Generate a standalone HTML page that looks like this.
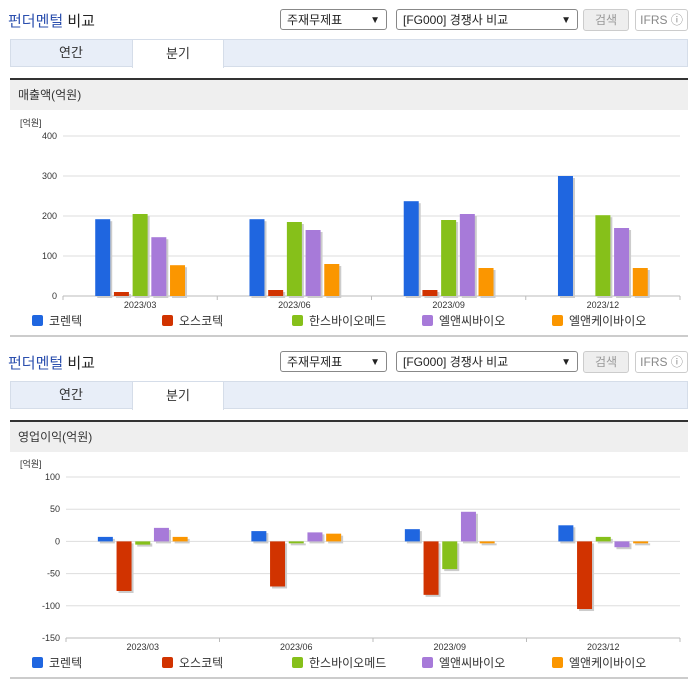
<!DOCTYPE html>
<html><head><meta charset="utf-8">
<style>
body{margin:0;width:696px;height:684px;background:#fff;font-family:"Liberation Sans","Noto Sans CJK KR",sans-serif;position:relative;overflow:hidden}
.sec{position:absolute;left:0;width:696px;height:342px}
.title{position:absolute;left:8px;top:10px;font-size:15px;color:#222}
.title b{color:#2b4fae;font-weight:normal}
.sel{position:absolute;top:9px;height:21px;border:1px solid #888;border-radius:3px;font-size:12px;line-height:21px;padding-left:6px;box-sizing:border-box;background:#fff;color:#222}
.sel span{position:absolute;right:6px;top:0;font-size:10px}
.btn{position:absolute;top:9px;height:22px;border:1px solid #ccc;border-radius:3px;font-size:12px;line-height:20px;text-align:center;box-sizing:border-box;color:#999}
.tabs{position:absolute;left:10px;top:39px;width:678px;height:28px;background:#e8eef8;border:1px solid #d5dde9;box-sizing:border-box}
.tab{position:absolute;top:-1px;height:29px;width:92px;text-align:center;line-height:28px;font-size:13px;color:#333}
.hdr{position:absolute;left:10px;top:78px;width:678px;height:32px;border-top:2px solid #333;background:#efefef;box-sizing:border-box;font-size:12px;line-height:30px;padding-left:8px;color:#333}
.foot{position:absolute;left:10px;width:678px;height:2px;background:#ccc}
svg text{font-family:"Liberation Sans","Noto Sans CJK KR",sans-serif}
</style></head><body>
<div class="sec" style="top:0">
 <div class="title"><b>펀더멘털</b> 비교</div>
 <div class="sel" style="left:280px;width:107px">주재무제표<span>▼</span></div>
 <div class="sel" style="left:396px;width:182px">[FG000] 경쟁사 비교<span>▼</span></div>
 <div class="btn" style="left:583px;width:46px;background:#eee">검색</div>
 <div class="btn" style="left:635px;width:53px;color:#888">IFRS ⓘ</div>
 <div class="tabs"><div class="tab" style="left:14px">연간</div><div class="tab" style="left:121px;background:#fff;border:1px solid #d5dde9;border-bottom:none;box-sizing:border-box">분기</div></div>
 <div class="hdr">매출액(억원)</div>
 <svg id="c1" style="position:absolute;left:0;top:0" width="696" height="342"></svg>
 <div class="foot" style="top:335px"></div>
</div>
<div class="sec" style="top:342px">
 <div class="title"><b>펀더멘털</b> 비교</div>
 <div class="sel" style="left:280px;width:107px">주재무제표<span>▼</span></div>
 <div class="sel" style="left:396px;width:182px">[FG000] 경쟁사 비교<span>▼</span></div>
 <div class="btn" style="left:583px;width:46px;background:#eee">검색</div>
 <div class="btn" style="left:635px;width:53px;color:#888">IFRS ⓘ</div>
 <div class="tabs"><div class="tab" style="left:14px">연간</div><div class="tab" style="left:121px;background:#fff;border:1px solid #d5dde9;border-bottom:none;box-sizing:border-box">분기</div></div>
 <div class="hdr">영업이익(억원)</div>
 <svg id="c2" style="position:absolute;left:0;top:0" width="696" height="342"></svg>
 <div class="foot" style="top:335px"></div>
</div>
<script>
const categories=["2023/03","2023/06","2023/09","2023/12"];
const seriesNames=["코렌텍","오스코텍","한스바이오메드","엘앤씨바이오","엘앤케이바이오"];
const seriesColors=["#1f66e0","#d13300","#86c01a","#a77ad9","#fb9600"];
const revKorentec=[192,192,237,300];
const revOscotec=[10,15,15,0];
const revHans=[205,185,190,202];
const revLnc=[147,165,205,170];
const revLnk=[77,80,70,70];
const revTicks=[0,100,200,300,400];
const opKorentec=[7,16,19,25];
const opOscotec=[-77,-70,-83,-105];
const opHans=[-5,-3,-43,7];
const opLnc=[21,14,46,-9];
const opLnk=[7,12,-3,-3];
const opTicks=[-150,-100,-50,0,50,100];
const NS="http://www.w3.org/2000/svg";
function mk(svg,tag,attrs){const e=document.createElementNS(NS,tag);for(const k in attrs)e.setAttribute(k,attrs[k]);svg.appendChild(e);return e;}
function draw(id,series,ticks,x0,x1,yTop,yBot){
 const svg=document.getElementById(id);
 const mn=ticks[0],mx=ticks[ticks.length-1];
 const y=v=>yBot-(v-mn)/(mx-mn)*(yBot-yTop);
 const lbl=mk(svg,'text',{x:20,y:yTop-10,'font-size':9,fill:'#333'});lbl.textContent='[억원]';
 
 ticks.forEach(t=>{
  const g=mk(svg,'line',{x1:x0,x2:x1,y1:y(t),y2:y(t),stroke:t===mn?'#bbb':'#ddd','stroke-width':1});
  
  const tx=mk(svg,'text',{x:x0-6,y:y(t)+3,'font-size':9,fill:'#333','text-anchor':'end'});tx.textContent=t;
  
 });
 const cw=(x1-x0)/categories.length, bw=15, step=18.7;
 categories.forEach((c,i)=>{
  const cx=x0+cw*(i+0.5);
  mk(svg,'line',{x1:x0+cw*i,x2:x0+cw*i,y1:yBot,y2:yBot+4,stroke:'#bbb'});
  const t=mk(svg,'text',{x:cx,y:yBot+12,'font-size':9,fill:'#333','text-anchor':'middle'});t.textContent=c;
  
  series.forEach((s,j)=>{
   const v=s[i]; if(v===0)return;
   const bx=cx+(j-2)*step-bw/2;
   const ya=y(Math.max(v,0)),yb=y(Math.min(v,0));
   mk(svg,'rect',{x:bx+2,y:ya+2,width:bw,height:Math.max(yb-ya,1),fill:'#ccc'});
   const r=mk(svg,'rect',{x:bx,y:ya,width:bw,height:Math.max(yb-ya,1),fill:seriesColors[j]});
   
  });
 });
 mk(svg,'line',{x1:x1,x2:x1,y1:yBot,y2:yBot+4,stroke:'#bbb'});
 const lx=[32,162,292,422,552];
 seriesNames.forEach((n,j)=>{
  const r=mk(svg,'rect',{x:lx[j],y:yBot+19,width:11,height:11,rx:2,fill:seriesColors[j]});
  
  const t=mk(svg,'text',{x:lx[j]+17,y:yBot+29,'font-size':12,fill:'#333'});t.textContent=n;
  
 });
}
draw('c1',[revKorentec,revOscotec,revHans,revLnc,revLnk],revTicks,63,680,136,296);
draw('c2',[opKorentec,opOscotec,opHans,opLnc,opLnk],opTicks,66,680,135,296);
</script>
</body></html>
